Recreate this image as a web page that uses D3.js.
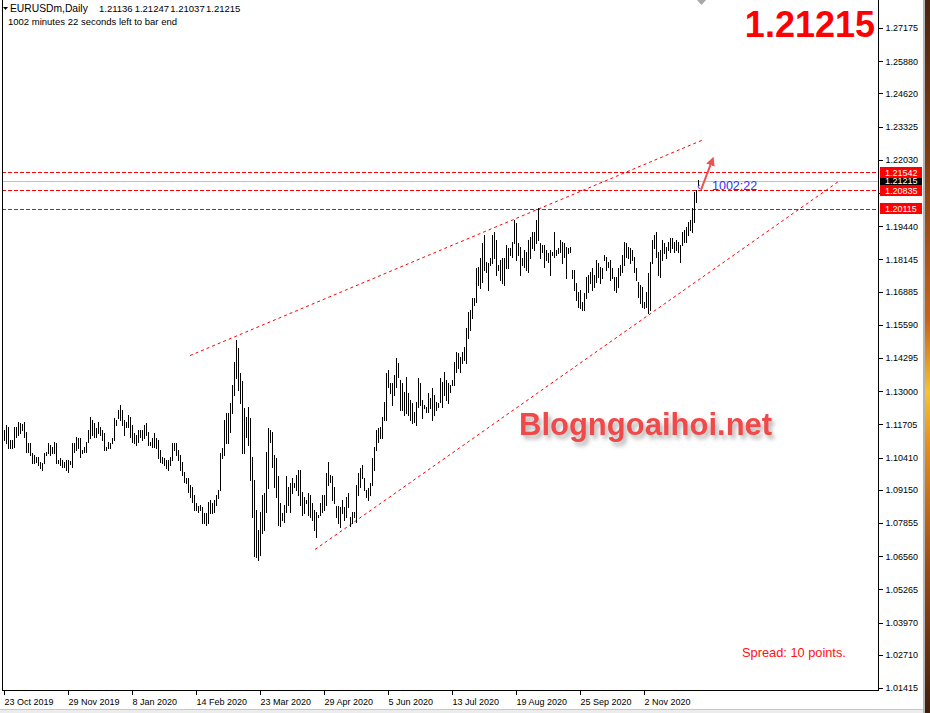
<!DOCTYPE html>
<html>
<head>
<meta charset="utf-8">
<script src="https://cdn.jsdelivr.net/npm/d3@7"></script>
<style>
  html, body { margin: 0; padding: 0; background: #fff; }
  svg { display: block; font-family: "Liberation Sans", Arial, sans-serif; }
</style>
</head>
<body>
<div id="chart"></div>
<script>
// daily bars, high / low
const highs = [
  1.1150,1.1169,1.1162,1.1111,1.1111,1.1162,1.1162,1.1181,1.1177,1.1173,
  1.1181,1.1142,1.1099,1.1099,1.1060,1.1052,1.1045,1.1045,1.1025,1.1021,
  1.1060,1.1064,1.1099,1.1091,1.1084,1.1103,1.1099,1.1033,1.1041,1.1033,
  1.1025,1.1033,1.1033,1.1029,1.1099,1.1099,1.1123,1.1119,1.1119,1.1072,
  1.1084,1.1103,1.1150,1.1201,1.1189,1.1177,1.1158,1.1181,1.1162,1.1150,
  1.1138,1.1084,1.1103,1.1099,1.1119,1.1197,1.1189,1.1228,1.1247,1.1228,
  1.1189,1.1181,1.1208,1.1201,1.1169,1.1138,1.1130,1.1150,1.1150,1.1150,
  1.1169,1.1177,1.1142,1.1103,1.1119,1.1138,1.1119,1.1111,1.1072,1.1045,
  1.1041,1.1033,1.1033,1.1045,1.1099,1.1099,1.1099,1.1072,1.1052,1.1025,
  1.0986,1.0963,1.0963,1.0935,1.0927,1.0896,1.0865,1.0850,1.0857,1.0846,
  1.0826,1.0826,1.0869,1.0877,1.0865,1.0877,1.0896,1.0916,1.1060,1.1080,
  1.1189,1.1216,1.1216,1.1255,1.1326,1.1415,1.1501,1.1470,1.1372,1.1341,
  1.1236,1.1201,1.1240,1.1197,1.1045,1.0955,1.0838,1.0760,1.0830,1.0896,
  1.0904,1.1064,1.1158,1.1150,1.1142,1.1052,1.1041,1.0967,1.0865,1.0826,
  1.0857,1.0967,1.0927,1.0943,1.0963,1.0943,1.0974,1.0994,1.0994,1.0908,
  1.0888,1.0877,1.0904,1.0896,1.0865,1.0838,1.0830,1.0818,1.0865,1.0896,
  1.0896,1.0982,1.1025,1.0974,1.0967,1.0927,1.0850,1.0850,1.0846,1.0877,
  1.0846,1.0888,1.0904,1.0810,1.0830,1.0830,1.0935,1.0982,1.1002,1.1013,
  1.0963,1.0916,1.0924,1.0943,1.1041,1.1084,1.1150,1.1158,1.1162,1.1201,
  1.1259,1.1372,1.1384,1.1333,1.1333,1.1364,1.1431,1.1411,1.1345,1.1333,
  1.1298,1.1357,1.1294,1.1267,1.1255,1.1220,1.1259,1.1353,1.1333,1.1267,
  1.1247,1.1240,1.1294,1.1275,1.1314,1.1286,1.1259,1.1255,1.1353,1.1337,
  1.1376,1.1345,1.1333,1.1326,1.1345,1.1415,1.1454,1.1450,1.1435,1.1454,
  1.1474,1.1548,1.1610,1.1618,1.1665,1.1665,1.1782,1.1786,1.1821,1.1879,
  1.1910,1.1805,1.1801,1.1821,1.1910,1.1922,1.1891,1.1794,1.1813,1.1821,
  1.1821,1.1872,1.1860,1.1860,1.1883,1.1969,1.1957,1.1879,1.1864,1.1821,
  1.1852,1.1844,1.1891,1.1903,1.1922,1.1922,1.1969,1.2016,1.1879,1.1872,
  1.1872,1.1852,1.1840,1.1852,1.1844,1.1922,1.1852,1.1860,1.1891,1.1883,
  1.1879,1.1864,1.1860,1.1864,1.1774,1.1774,1.1723,1.1688,1.1696,1.1649,
  1.1684,1.1747,1.1755,1.1766,1.1782,1.1755,1.1813,1.1801,1.1786,1.1782,
  1.1833,1.1825,1.1805,1.1813,1.1782,1.1747,1.1747,1.1782,1.1794,1.1833,
  1.1883,1.1879,1.1864,1.1860,1.1852,1.1825,1.1782,1.1727,1.1716,1.1708,
  1.1649,1.1688,1.1762,1.1805,1.1891,1.1910,1.1922,1.1844,1.1852,1.1891,
  1.1879,1.1864,1.1883,1.1899,1.1899,1.1883,1.1891,1.1883,1.1872,1.1922,
  1.1930,1.1942,1.1961,1.1969,1.2016,1.2078,1.2086,1.2125
];
const lows = [
  1.1111,1.1099,1.1080,1.1080,1.1080,1.1084,1.1123,1.1130,1.1138,1.1150,
  1.1123,1.1064,1.1064,1.1052,1.1021,1.1021,1.1025,1.1013,1.1002,1.0994,
  1.1021,1.1052,1.1060,1.1052,1.1060,1.1060,1.1021,1.1021,1.1013,1.1006,
  1.1006,1.0994,1.0986,1.1017,1.1006,1.1064,1.1072,1.1080,1.1045,1.1060,
  1.1064,1.1064,1.1103,1.1119,1.1130,1.1123,1.1123,1.1138,1.1130,1.1111,
  1.1072,1.1072,1.1080,1.1080,1.1099,1.1111,1.1169,1.1197,1.1189,1.1169,
  1.1130,1.1162,1.1162,1.1123,1.1103,1.1099,1.1091,1.1103,1.1123,1.1111,
  1.1119,1.1130,1.1091,1.1091,1.1084,1.1084,1.1080,1.1041,1.1025,1.1021,
  1.1013,1.1002,1.0994,1.1013,1.1033,1.1072,1.1052,1.1033,1.0994,1.0974,
  1.0947,1.0943,1.0908,1.0888,1.0869,1.0838,1.0838,1.0830,1.0838,1.0787,
  1.0787,1.0779,1.0787,1.0826,1.0826,1.0830,1.0857,1.0885,1.0916,1.1041,
  1.1052,1.1099,1.1099,1.1142,1.1216,1.1286,1.1353,1.1306,1.1255,1.1060,
  1.1060,1.1123,1.1091,1.0955,1.0807,1.0655,1.0651,1.0643,1.0662,1.0748,
  1.0760,1.0830,1.0924,1.1103,1.1006,1.0927,1.0888,1.0779,1.0772,1.0799,
  1.0791,1.0830,1.0857,1.0830,1.0904,1.0927,1.0916,1.0896,1.0857,1.0818,
  1.0826,1.0865,1.0818,1.0810,1.0799,1.0760,1.0729,1.0810,1.0818,1.0830,
  1.0838,1.0857,1.0935,1.0947,1.0877,1.0865,1.0810,1.0787,1.0768,1.0826,
  1.0799,1.0810,1.0846,1.0772,1.0787,1.0807,1.0791,1.0896,1.0927,1.0963,
  1.0916,1.0888,1.0877,1.0896,1.0935,1.0994,1.1072,1.1103,1.1119,1.1119,
  1.1189,1.1189,1.1318,1.1294,1.1247,1.1286,1.1318,1.1357,1.1228,1.1228,
  1.1208,1.1216,1.1208,1.1189,1.1177,1.1181,1.1169,1.1240,1.1247,1.1197,
  1.1236,1.1220,1.1220,1.1236,1.1189,1.1208,1.1228,1.1240,1.1259,1.1240,
  1.1286,1.1267,1.1255,1.1298,1.1326,1.1326,1.1376,1.1392,1.1376,1.1411,
  1.1423,1.1411,1.1509,1.1540,1.1587,1.1637,1.1649,1.1716,1.1704,1.1727,
  1.1774,1.1766,1.1696,1.1794,1.1801,1.1821,1.1755,1.1774,1.1735,1.1723,
  1.1716,1.1782,1.1782,1.1833,1.1825,1.1879,1.1813,1.1833,1.1755,1.1794,
  1.1786,1.1774,1.1766,1.1821,1.1860,1.1852,1.1879,1.1891,1.1821,1.1844,
  1.1786,1.1813,1.1805,1.1755,1.1833,1.1825,1.1833,1.1840,1.1844,1.1801,
  1.1825,1.1743,1.1840,1.1844,1.1743,1.1696,1.1657,1.1630,1.1626,1.1618,
  1.1618,1.1665,1.1688,1.1723,1.1696,1.1708,1.1727,1.1747,1.1723,1.1743,
  1.1813,1.1774,1.1786,1.1735,1.1743,1.1696,1.1688,1.1708,1.1755,1.1766,
  1.1794,1.1825,1.1821,1.1801,1.1813,1.1766,1.1735,1.1669,1.1645,1.1630,
  1.1626,1.1630,1.1606,1.1618,1.1801,1.1860,1.1825,1.1755,1.1747,1.1813,
  1.1840,1.1821,1.1852,1.1844,1.1860,1.1844,1.1852,1.1844,1.1805,1.1872,
  1.1883,1.1883,1.1910,1.1930,1.1922,1.1961,1.2039,1.2104
];

// bar index where each date label sits
const dateTicks = [0, 32, 64, 96, 128, 160, 192, 224, 256, 288, 320];
const dateLabels = ["23 Oct 2019", "29 Nov 2019", "8 Jan 2020", "14 Feb 2020", "23 Mar 2020",
  "29 Apr 2020", "5 Jun 2020", "13 Jul 2020", "19 Aug 2020", "25 Sep 2020", "2 Nov 2020"];

const priceTicks = [1.27175, 1.25880, 1.24620, 1.23325, 1.22030, 1.20735, 1.19440, 1.18145,
  1.16885, 1.15590, 1.14295, 1.13000, 1.11705, 1.10410, 1.09150, 1.07855, 1.06560,
  1.05265, 1.03970, 1.02710, 1.01415];

const symbol = "EURUSDm,Daily";
const ohlc = [1.21136, 1.21247, 1.21037, 1.21215];
const lastPrice = 1.21215;
const levels = [1.21542, 1.20835, 1.20115];

// trend lines: [bar index, price]
const upperTrend = [[93, 1.1439], [349.5, 1.2281]];
const lowerTrend = [[155.5, 1.0682], [417, 1.2117]];
const arrowPts = [[348.5, 1.2086], [354, 1.2199]];

const width = 930, height = 713;
const axisX = 878, axisY = 690;

const svg = d3.select("#chart").append("svg")
  .attr("width", width)
  .attr("height", height);

const defs = svg.append("defs");
const shadow = defs.append("filter").attr("id", "shadow")
  .attr("x", "-10%").attr("y", "-30%").attr("width", "130%").attr("height", "180%");
shadow.append("feDropShadow")
  .attr("dx", 3).attr("dy", 4).attr("stdDeviation", 2)
  .attr("flood-color", "#777").attr("flood-opacity", 0.55);

const wood = defs.append("linearGradient").attr("id", "wood")
  .attr("x1", 0).attr("y1", 0).attr("x2", 0).attr("y2", 1);
[[0, "#4a2410"], [0.2, "#7a3a12"], [0.45, "#c8641a"], [0.55, "#f4c430"],
 [0.62, "#e8901c"], [0.8, "#9a4814"], [1, "#3e1e0c"]].forEach(s =>
  wood.append("stop").attr("offset", s[0]).attr("stop-color", s[1]));

defs.append("marker").attr("id", "arrowhead")
  .attr("viewBox", "0 0 10 10").attr("refX", 5).attr("refY", 5)
  .attr("markerWidth", 4.5).attr("markerHeight", 4.5).attr("orient", "auto")
  .append("path").attr("d", "M0,0 L10,5 L0,10 z").attr("fill", "#f05050");

// window edges
svg.append("rect").attr("x", 923).attr("y", 0).attr("width", 2).attr("height", height).attr("fill", "#b4b4b4");
svg.append("rect").attr("x", 925).attr("y", 0).attr("width", 5).attr("height", height).attr("fill", "url(#wood)");
svg.append("rect").attr("x", 0).attr("y", 709).attr("width", 923).attr("height", 4).attr("fill", "#ececec");
svg.append("line").attr("x1", 0).attr("x2", 923).attr("y1", 709.5).attr("y2", 709.5).attr("stroke", "#c8c8c8");

const x = d3.scaleLinear().domain([0, 347]).range([4, 698]);
const y = d3.scaleLinear().domain([1.01415, 1.27175]).range([688, 28]);

const px = v => Math.round(x(v)) + 0.5;
const py = v => Math.round(y(v)) + 0.5;

// watermark
svg.append("text")
  .attr("x", 519).attr("y", 435)
  .attr("font-size", 31).attr("font-weight", "bold")
  .attr("fill", "#f04848")
  .attr("filter", "url(#shadow)")
  .text("Blogngoaihoi.net");

// horizontal price levels
svg.append("line")
  .attr("x1", 2).attr("x2", axisX)
  .attr("y1", py(lastPrice)).attr("y2", py(lastPrice))
  .attr("stroke", "#c0c0c0").attr("shape-rendering", "crispEdges");

svg.selectAll(".level").data(levels).enter().append("line")
  .attr("class", "level")
  .attr("x1", 2).attr("x2", axisX)
  .attr("y1", d => py(d)).attr("y2", d => py(d))
  .attr("stroke", "#ff0000").attr("stroke-dasharray", "4,2")
  .attr("shape-rendering", "crispEdges");

// trend channel
const trendLine = d3.line().x(d => x(d[0])).y(d => y(d[1]));
svg.selectAll(".trend").data([upperTrend, lowerTrend]).enter().append("path")
  .attr("class", "trend")
  .attr("d", trendLine)
  .attr("fill", "none").attr("stroke", "#ff0000")
  .attr("stroke-width", 1).attr("stroke-dasharray", "3,3");

// bars
svg.append("g").selectAll("line").data(highs).enter().append("line")
  .attr("x1", (d, i) => px(i)).attr("x2", (d, i) => px(i))
  .attr("y1", d => Math.round(y(d)))
  .attr("y2", (d, i) => Math.round(y(lows[i])) + 1)
  .attr("stroke", "#000").attr("stroke-width", 1)
  .attr("shape-rendering", "crispEdges");

// arrow
svg.append("path")
  .attr("d", trendLine(arrowPts))
  .attr("stroke", "#f05050").attr("stroke-width", 2)
  .attr("fill", "none").attr("marker-end", "url(#arrowhead)");

// countdown label
svg.append("text")
  .attr("x", x(346.5)).attr("y", y(lastPrice) + 9.5)
  .attr("font-size", 11).attr("fill", "#2f2fff")
  .text("\u2039");
svg.append("text")
  .attr("x", x(354)).attr("y", y(lastPrice) + 9.5)
  .attr("font-size", 12.5).attr("fill", "#2f2fff")
  .text("1002:22");

// axes frame
svg.append("line").attr("x1", 2).attr("x2", 2).attr("y1", 0).attr("y2", axisY + 1)
  .attr("stroke", "#000").attr("shape-rendering", "crispEdges");
svg.append("line").attr("x1", axisX + 0.5).attr("x2", axisX + 0.5).attr("y1", 0).attr("y2", axisY + 1)
  .attr("stroke", "#000").attr("shape-rendering", "crispEdges");
svg.append("line").attr("x1", 2).attr("x2", axisX + 1).attr("y1", axisY + 0.5).attr("y2", axisY + 0.5)
  .attr("stroke", "#000").attr("shape-rendering", "crispEdges");

const yAxis = svg.append("g")
  .attr("transform", `translate(${axisX + 0.5},0)`)
  .call(d3.axisRight(y).tickValues(priceTicks).tickFormat(d3.format(".5f")).tickSize(4).tickPadding(3));
yAxis.select(".domain").remove();
yAxis.selectAll("text").attr("font-size", 9).attr("font-family", "Liberation Sans, Arial, sans-serif").attr("fill", "#000");
yAxis.selectAll("line").attr("stroke", "#000").attr("shape-rendering", "crispEdges");
// the tick label hidden behind the price tags is not drawn
yAxis.selectAll(".tick").filter(d => d === 1.20735).select("text").remove();

const xAxis = svg.append("g")
  .attr("transform", `translate(0,${axisY + 0.5})`)
  .call(d3.axisBottom(x).tickValues(dateTicks).tickFormat((d, i) => dateLabels[i]).tickSize(4).tickPadding(4));
xAxis.select(".domain").remove();
xAxis.selectAll("text").attr("text-anchor", "start").attr("x", 0)
  .attr("font-size", 9).attr("font-family", "Liberation Sans, Arial, sans-serif").attr("fill", "#000");
xAxis.selectAll("line").attr("stroke", "#000").attr("shape-rendering", "crispEdges");

// price tags on the axis
const tagW = 42, tagH = 11;
const tag = (v, fill) => {
  svg.append("rect")
    .attr("x", axisX + 2).attr("y", Math.round(y(v) - tagH / 2))
    .attr("width", tagW).attr("height", tagH).attr("fill", fill);
  svg.append("text")
    .attr("x", axisX + 7).attr("y", y(v) + 3.3)
    .attr("font-size", 9).attr("fill", "#fff")
    .text(d3.format(".5f")(v));
};
tag(lastPrice, "#000");
levels.forEach(v => tag(v, "#ff0000"));

// header
svg.append("path").attr("d", "M3,7 L8,7 L5.5,10 z").attr("fill", "#000");
svg.append("text").attr("x", 10).attr("y", 12).attr("font-size", 10.3)
  .text(symbol);
const ohlcX = d3.scaleLinear().domain([0, 3]).range([99, 206]);
svg.selectAll(".ohlc").data(ohlc).enter().append("text")
  .attr("class", "ohlc")
  .attr("x", (d, i) => ohlcX(i)).attr("y", 12).attr("font-size", 9.5)
  .text(d => d3.format(".5f")(d));
svg.append("text").attr("x", 8).attr("y", 25).attr("font-size", 9.5)
  .text("1002 minutes 22 seconds left to bar end");

// shift marker at the top
svg.append("path").attr("d", "M697,0 L706,0 L701.5,5 z").attr("fill", "#a8a8a8");

// big price
svg.append("text")
  .attr("x", 875).attr("y", 37)
  .attr("text-anchor", "end")
  .attr("font-size", 36).attr("font-weight", "bold")
  .attr("fill", "#ff0000")
  .text(d3.format(".5f")(lastPrice));

// spread
svg.append("text")
  .attr("x", 742).attr("y", 657)
  .attr("font-size", 12.8).attr("fill", "#ff1010")
  .text("Spread: 10 points.");
</script>
</body>
</html>
